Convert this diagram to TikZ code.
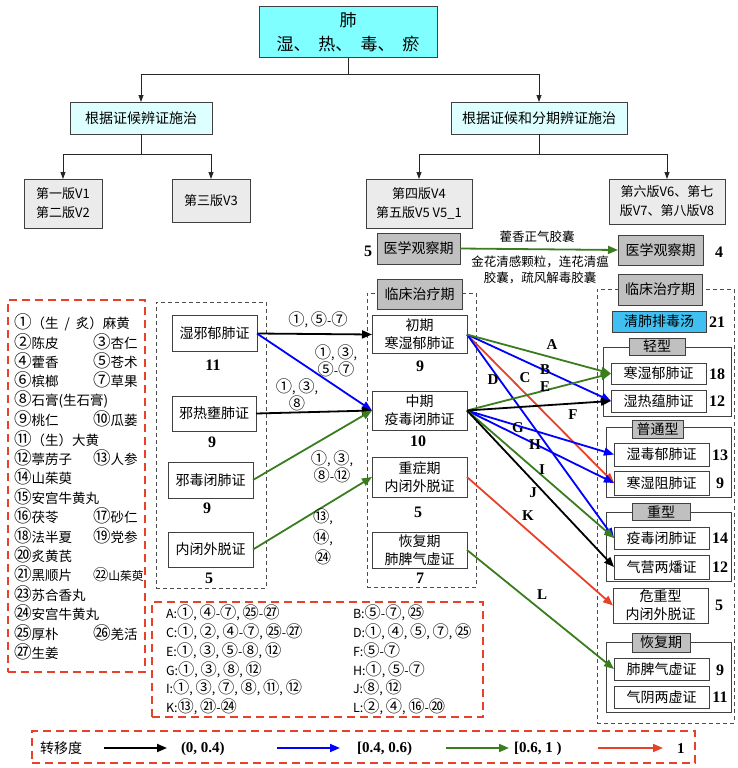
\documentclass[tikz,border=0pt]{standalone}
\usepackage{fontspec}
\setmainfont{Liberation Serif}
\newfontfamily\cjk{Noto Sans CJK SC}
\newfontfamily\circfont{Noto Sans CJK SC}[Scale=1.3]
\usetikzlibrary{arrows.meta}
\definecolor{lungcyan}{HTML}{7FFFFF}
\definecolor{palecyan}{HTML}{DDFFFF}
\definecolor{versgray}{HTML}{EBEBEB}
\definecolor{obsgray}{HTML}{C0C0C0}
\definecolor{qfpblue}{HTML}{40C0F0}
\definecolor{arrblue}{HTML}{0000FF}
\definecolor{arrgreen}{HTML}{3A7D1E}
\definecolor{arrred}{HTML}{E8412A}
\definecolor{boxline}{HTML}{404040}

\XeTeXinterchartokenstate=1
\newXeTeXintercharclass\circclass
\count255="2460
\loop\XeTeXcharclass\count255=\circclass\ifnum\count255<"2473 \advance\count255 by 1 \repeat
\count255="3251
\loop\XeTeXcharclass\count255=\circclass\ifnum\count255<"3257 \advance\count255 by 1 \repeat
\XeTeXinterchartoks 0 \circclass = {\begingroup\circfont}
\XeTeXinterchartoks 1 \circclass = {\begingroup\circfont}
\XeTeXinterchartoks 2 \circclass = {\begingroup\circfont}
\XeTeXinterchartoks 3 \circclass = {\begingroup\circfont}
\XeTeXinterchartoks 4095 \circclass = {\begingroup\circfont}
\XeTeXinterchartoks \circclass 0 = {\endgroup}
\XeTeXinterchartoks \circclass 1 = {\endgroup}
\XeTeXinterchartoks \circclass 2 = {\endgroup}
\XeTeXinterchartoks \circclass 3 = {\endgroup}
\XeTeXinterchartoks \circclass 4095 = {\endgroup}

\begin{document}
\begin{tikzpicture}[x=1pt, y=-1pt,
  every node/.style={inner sep=0pt, outer sep=0pt},
  cn/.style={font=\cjk\fontsize{14}{18}\selectfont},
  small cn/.style={font=\cjk\fontsize{12.5}{16}\selectfont},
  box/.style={cn, draw=boxline, line width=0.9pt, fill=white, align=center},
  treebox/.style={box, draw=black!75, line width=1pt},
  obsbox/.style={box, fill=obsgray},
  frame/.style={draw=boxline, line width=0.9pt},
  group/.style={draw=black!70, line width=0.9pt, dash pattern=on 4pt off 3pt},
  redgroup/.style={draw=arrred, line width=1.2pt, dash pattern=on 8pt off 5pt},
  count/.style={font=\bfseries\fontsize{16}{18}\selectfont},
  letter/.style={font=\bfseries\fontsize{15}{17}\selectfont},
  herb/.style={font=\cjk\fontsize{13.5}{16}\selectfont, anchor=west},
  recipe/.style={font=\cjk\fontsize{12.5}{16}\selectfont, anchor=west},
  branch/.style={draw=black!85, line width=0.8pt, -{Triangle[length=7pt,width=5pt]}},
  flow/.style={line width=1.8pt, -{Triangle[length=10pt,width=8pt]}},
  flowK/.style={flow, black},
  flowB/.style={flow, arrblue},
  flowG/.style={flow, arrgreen},
  flowR/.style={flow, arrred}
]
\useasboundingbox (0,0) rectangle (737,768);

\node[treebox, fill=lungcyan, minimum width=178, minimum height=51, font=\cjk\fontsize{17}{24}\selectfont] (lung) at (348,32.5) {肺\\湿、\hspace{8pt}热、\hspace{8pt}毒、\hspace{8pt}瘀};
\node[treebox, fill=palecyan, minimum width=142, minimum height=32] (byzh) at (141,118) {根据证候辨证施治};
\node[treebox, fill=palecyan, minimum width=176, minimum height=32] (byfq) at (539,118) {根据证候和分期辨证施治};
\node[treebox, fill=versgray, minimum width=78, minimum height=49, font=\cjk\fontsize{13}{19}\selectfont] (v12) at (63,203.5) {第一版V1\\第二版V2};
\node[treebox, fill=versgray, minimum width=78, minimum height=43, font=\cjk\fontsize{13}{19}\selectfont] (v3) at (211,200.5) {第三版V3};
\node[treebox, fill=versgray, minimum width=106, minimum height=49, font=\cjk\fontsize{13}{19}\selectfont] (v45) at (419,203.5) {第四版V4\\第五版V5 V5\_1};
\node[treebox, fill=versgray, minimum width=116, minimum height=45, font=\cjk\fontsize{13}{19}\selectfont] (v678) at (667,201.5) {第六版V6、第七\\版V7、第八版V8};

\draw[branch] (lung.south) -- ++(0,16) -| (byzh.north);
\draw[branch] (lung.south) -- ++(0,16) -| (byfq.north);
\draw[branch] (byzh.south) -- ++(0,20) -| (v12.north);
\draw[branch] (byzh.south) -- ++(0,20) -| (v3.north);
\draw[branch] (byfq.south) -- ++(0,20) -| (v45.north);
\draw[branch] (byfq.south) -- ++(0,20) -| (v678.north);

\node[obsbox, minimum width=83, minimum height=31] (obsL) at (418.5,248.5) {医学观察期};
\node[obsbox, minimum width=85, minimum height=30] (obsR) at (660.5,250) {医学观察期};
\node[count] (nobsL) at (368,251) {5};
\node[count] (nobsR) at (719,252) {4};
\draw[flowG] (obsL.east) -- (obsR.west);
\node[small cn] (huox) at (537,237) {藿香正气胶囊};
\node[small cn, align=center] (jinh) at (540,270) {金花清感颗粒，连花清瘟\\胶囊，疏风解毒胶囊};

\node[group, minimum width=110, minimum height=286] (leftgrp) at (211,445) {};
\node[box, minimum width=85, minimum height=36] (s1) at (214.5,333.5) {湿邪郁肺证};
\node[box, minimum width=84, minimum height=35] (s2) at (214,413.5) {邪热壅肺证};
\node[box, minimum width=85, minimum height=36] (s3) at (210.5,480) {邪毒闭肺证};
\node[box, minimum width=85, minimum height=35] (s4) at (210.5,549.5) {内闭外脱证};
\node[count] (ns1) at (213,365) {11};
\node[count] (ns2) at (212,442) {9};
\node[count] (ns3) at (207,508) {9};
\node[count] (ns4) at (209,578) {5};

\node[group, minimum width=109, minimum height=294] (midgrp) at (421.5,440) {};
\node[obsbox, minimum width=85, minimum height=30] (midtitle) at (419.5,294) {临床治疗期};
\node[box, minimum width=95, minimum height=38] (early) at (419.5,334.5) {初期\\寒湿郁肺证};
\node[box, minimum width=95, minimum height=39] (middle) at (419.5,410.5) {中期\\疫毒闭肺证};
\node[box, minimum width=95, minimum height=40] (severe) at (419.5,477) {重症期\\内闭外脱证};
\node[box, minimum width=95, minimum height=36] (recover) at (419.5,550) {恢复期\\肺脾气虚证};
\node[count] (nearly) at (420,366) {9};
\node[count] (nmiddle) at (418,441) {10};
\node[count] (nsevere) at (418,512) {5};
\node[count] (nrecover) at (420,578) {7};

\draw[flowK] (s1.east) -- (early.west);
\draw[flowB] (s1.east) -- (middle.west);
\draw[flowK] (s2.east) -- (middle.west);
\draw[flowG] (s3.east) -- (middle.west);
\draw[flowG] (s4.east) -- (severe.west);
\node[small cn] (ls1a) at (318,320) {①, ⑤-⑦};
\node[small cn, align=center] (ls1b) at (336,361) {①, ③,\\⑤-⑦};
\node[small cn, align=center] (ls2) at (297,395) {①, ③,\\⑧};
\node[small cn, align=center] (ls3) at (332,467) {①, ③,\\⑧-⑫};
\node[small cn, align=center, font=\cjk\fontsize{12.5}{20.5}\selectfont] (ls4) at (323,537) {⑬,\\⑭,\\㉔};

\node[group, minimum width=137, minimum height=434] (rightgrp) at (665.5,506) {};
\node[obsbox, minimum width=84, minimum height=31] (righttitle) at (660,289.5) {临床治疗期};
\node[box, fill=qfpblue, minimum width=94, minimum height=21] (qfp) at (659,321.5) {清肺排毒汤};
\node[count] (nqfp) at (717,322) {21};

\node[frame, minimum width=128, minimum height=69] (mild) at (667,381.5) {};
\node[obsbox, minimum width=56, minimum height=17] (mildtitle) at (657,346.5) {轻型};
\node[box, minimum width=95, minimum height=21] (r1) at (658.5,373.5) {寒湿郁肺证};
\node[box, minimum width=95, minimum height=22] (r2) at (658.5,401) {湿热蕴肺证};
\node[count] (nr1) at (717,374) {18};
\node[count] (nr2) at (717,401) {12};

\node[frame, minimum width=125, minimum height=70] (common) at (668.5,462) {};
\node[obsbox, minimum width=51, minimum height=18] (commontitle) at (657.5,429) {普通型};
\node[box, minimum width=95, minimum height=23] (r3) at (661.5,454.5) {湿毒郁肺证};
\node[box, minimum width=95, minimum height=24] (r4) at (661.5,483) {寒湿阻肺证};
\node[count] (nr3) at (720,455) {13};
\node[count] (nr4) at (720,483) {9};

\node[frame, minimum width=125, minimum height=69] (heavy) at (668.5,546.5) {};
\node[obsbox, minimum width=58, minimum height=17] (heavytitle) at (661,511.5) {重型};
\node[box, minimum width=95, minimum height=22] (r5) at (661.5,538) {疫毒闭肺证};
\node[box, minimum width=95, minimum height=24] (r6) at (661.5,567) {气营两燔证};
\node[count] (nr5) at (720,538) {14};
\node[count] (nr6) at (720,567) {12};

\node[box, minimum width=95, minimum height=35] (r7) at (660.5,605.5) {危重型\\内闭外脱证};
\node[count] (nr7) at (719,605) {5};

\node[frame, minimum width=125, minimum height=70] (convl) at (668.5,677) {};
\node[obsbox, minimum width=58, minimum height=19] (convltitle) at (661,642.5) {恢复期};
\node[box, minimum width=95, minimum height=22] (r8) at (661.5,669) {肺脾气虚证};
\node[box, minimum width=95, minimum height=22] (r9) at (661.5,697) {气阴两虚证};
\node[count] (nr8) at (720,670) {9};
\node[count] (nr9) at (720,697) {11};

\draw[flowR] (early.east) -- (r4.west);
\draw[flowB] (early.east) -- (r5.west);
\draw[flowB] (early.east) -- (r2.west);
\draw[flowG] (early.east) -- (r1.west);
\draw[flowB] (middle.east) -- (r3.west);
\draw[flowB] (middle.east) -- (r4.west);
\draw[flowG] (middle.east) -- (r5.west);
\draw[flowK] (middle.east) -- (r6.west);
\draw[flowG] (middle.east) -- (r1.west);
\draw[flowK] (middle.east) -- (r2.west);
\draw[flowR] (severe.east) -- (r7.west);
\draw[flowG] (recover.east) -- (r8.west);
\node[letter] (lA) at (552,345) {A};
\node[letter] (lB) at (545,370) {B};
\node[letter] (lC) at (525,378) {C};
\node[letter] (lD) at (493,380) {D};
\node[letter] (lE) at (545,387) {E};
\node[letter] (lF) at (573,415) {F};
\node[letter] (lG) at (518,428) {G};
\node[letter] (lH) at (535,445) {H};
\node[letter] (lI) at (542,470) {I};
\node[letter] (lJ) at (533,493) {J};
\node[letter] (lK) at (528,516) {K};
\node[letter] (lL) at (542,595) {L};

\node[redgroup, minimum width=137, minimum height=372] (herbs) at (76.5,486) {};
\foreach \i/\h in {1/{①（生\ \ /\ \ 炙）麻黄}, 2/②陈皮, 3/④藿香, 4/⑥槟榔, 5/⑧石膏(生石膏), 6/⑨桃仁,
  7/⑪（生）大黄, 8/⑫葶苈子, 9/⑭山茱萸, 10/⑮安宫牛黄丸, 11/⑯茯苓, 12/⑱法半夏,
  13/⑳炙黄芪, 14/㉑黑顺片, 15/㉓苏合香丸, 16/㉔安宫牛黄丸, 17/㉕厚朴, 18/㉗生姜}
  \node[herb] (hl\i) at (14,{322+19.4*(\i-1)}) {\h};
\foreach \i/\h in {2/③杏仁, 3/⑤苍术, 4/⑦草果, 6/⑩瓜蒌, 8/⑬人参, 11/⑰砂仁, 12/⑲党参,
  14/{\fontsize{11.8}{14}\selectfont ㉒山茱萸}, 17/㉖羌活}
  \node[herb] (hr\i) at (93,{322+19.4*(\i-1)}) {\h};

\node[redgroup, minimum width=331, minimum height=115] (recipes) at (317.5,659.5) {};
\foreach \i/\p/\q in {1/{A:①, ④-⑦, ㉕-㉗}/{B:⑤-⑦, ㉕}, 2/{C:①, ②, ④-⑦, ㉕-㉗}/{D:①, ④, ⑤, ⑦, ㉕},
  3/{E:①, ③, ⑤-⑧, ⑫}/{F:⑤-⑦}, 4/{G:①, ③, ⑧, ⑫}/{H:①, ⑤-⑦},
  5/{I:①, ③, ⑦, ⑧, ⑪, ⑫}/{J:⑧, ⑫}, 6/{K:⑬, ㉑-㉔}/{L:②, ④, ⑯-⑳}}
{
  \node[recipe] (pl\i) at (166,{613+18.8*(\i-1)}) {\p};
  \node[recipe] (pr\i) at (353,{613+18.8*(\i-1)}) {\q};
}

\node[redgroup, minimum width=663, minimum height=32] (legend) at (363.5,747) {};
\node[cn, anchor=west] (degree) at (40,748) {转移度};
\coordinate (k1a) at (104,748); \coordinate (k1b) at (167,748);
\coordinate (k2a) at (277,748); \coordinate (k2b) at (340,748);
\coordinate (k3a) at (446,748); \coordinate (k3b) at (509,748);
\coordinate (k4a) at (598,748); \coordinate (k4b) at (663,748);
\draw[flowK] (k1a) -- (k1b);
\draw[flowB] (k2a) -- (k2b);
\draw[flowG] (k3a) -- (k3b);
\draw[flowR] (k4a) -- (k4b);
\node[letter, anchor=west] (rng1) at (181,749) {(0, 0.4)};
\node[letter, anchor=west] (rng2) at (357,749) {[0.4, 0.6)};
\node[letter, anchor=west] (rng3) at (514,749) {[0.6, 1 )};
\node[letter, anchor=west] (rng4) at (677,749) {1};
\end{tikzpicture}
\end{document}
